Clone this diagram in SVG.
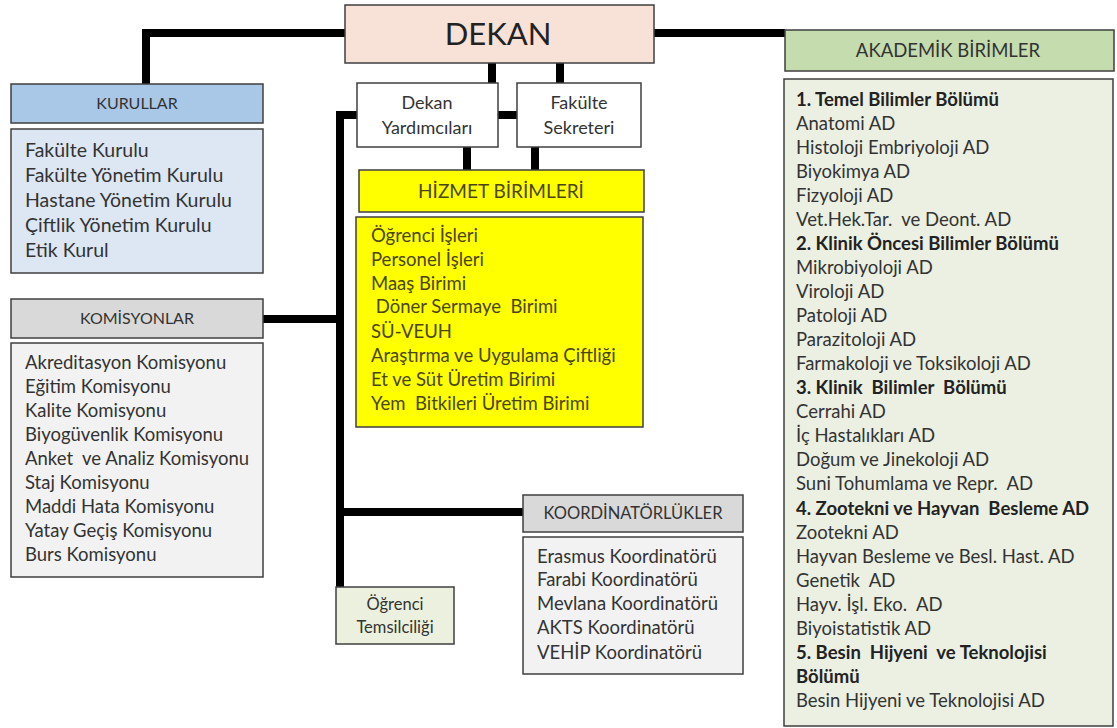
<svg xmlns="http://www.w3.org/2000/svg" width="1117" height="728" viewBox="0 0 1117 728">
<style>
.box{stroke:#3f3f3f;stroke-width:1.5}
.t{font-family:Lato,"Liberation Sans",sans-serif;fill:#333333;font-size:18.5px;white-space:pre}
.k{font-family:Lato,"Liberation Sans",sans-serif;fill:#333333;font-size:19.5px}
.h{font-family:Lato,"Liberation Sans",sans-serif;fill:#333333;font-size:16px;text-anchor:middle}
.b{font-weight:bold;fill:#222222}
.y{fill:#4a4515}
.c{fill:none;stroke:#000;stroke-width:8;stroke-linejoin:miter;stroke-linecap:butt}
</style>
<rect width="1117" height="728" fill="#ffffff"/>
<g id="connectors">
<path class="c" d="M345 33 H146 V84"/>
<path class="c" d="M654 33 H785"/>
<path class="c" d="M492 63 V83"/>
<path class="c" d="M560 63 V83"/>
<path class="c" d="M498 115 H517"/>
<path class="c" d="M467 147 V170"/>
<path class="c" d="M535 147 V170"/>
<path class="c" d="M357 115 H340 V587"/>
<path class="c" d="M263 319 H340"/>
<path class="c" d="M340 512 H523"/>
</g>
<g id="dekan">
<rect class="box" x="345" y="5" width="309" height="58" fill="#f8e1d7"/>
<text x="498" y="45" font-family="Lato,'Liberation Sans',sans-serif" font-size="31" fill="#222" text-anchor="middle">DEKAN</text>
</g>
<g id="dekan-yardimcilari">
<rect class="box" x="357" y="83" width="141" height="64" fill="#ffffff"/>
<text class="h" x="427" y="109" style="font-size:18px">Dekan</text>
<text class="h" x="427" y="134" style="font-size:18px">Yardımcıları</text>
</g>
<g id="fakulte-sekreteri">
<rect class="box" x="517" y="83" width="124" height="64" fill="#ffffff"/>
<text class="h" x="579" y="109" style="font-size:18px">Fakülte</text>
<text class="h" x="579" y="134" style="font-size:18px">Sekreteri</text>
</g>
<g id="kurullar">
<rect class="box" x="11" y="84" width="252" height="39" fill="#a9c7e7"/>
<text class="h" x="137" y="109">KURULLAR</text>
<rect class="box" x="11" y="129" width="252" height="144" fill="#dde7f3"/>
<text class="k" x="25" y="157">Fakülte Kurulu</text>
<text class="k" x="25" y="182">Fakülte Yönetim Kurulu</text>
<text class="k" x="25" y="207">Hastane Yönetim Kurulu</text>
<text class="k" x="25" y="232">Çiftlik Yönetim Kurulu</text>
<text class="k" x="25" y="257">Etik Kurul</text>
</g>
<g id="komisyonlar">
<rect class="box" x="11" y="299" width="252" height="39" fill="#d9d9d9"/>
<text class="h" x="137" y="324">KOMİSYONLAR</text>
<rect class="box" x="11" y="343" width="252" height="234" fill="#f2f2f2"/>
<text class="t" x="25" y="369">Akreditasyon Komisyonu</text>
<text class="t" x="25" y="393">Eğitim Komisyonu</text>
<text class="t" x="25" y="417">Kalite Komisyonu</text>
<text class="t" x="25" y="441">Biyogüvenlik Komisyonu</text>
<text class="t" x="25" y="465">Anket  ve Analiz Komisyonu</text>
<text class="t" x="25" y="489">Staj Komisyonu</text>
<text class="t" x="25" y="513">Maddi Hata Komisyonu</text>
<text class="t" x="25" y="537">Yatay Geçiş Komisyonu</text>
<text class="t" x="25" y="561">Burs Komisyonu</text>
</g>
<g id="hizmet-birimleri">
<rect class="box" x="359" y="170" width="285" height="42" fill="#ffff00"/>
<text class="h y" x="501" y="198" style="font-size:19px">HİZMET BİRİMLERİ</text>
<rect class="box" x="356" y="217" width="287" height="210" fill="#ffff00"/>
<text class="t y" x="371" y="242">Öğrenci İşleri</text>
<text class="t y" x="371" y="266">Personel İşleri</text>
<text class="t y" x="371" y="290">Maaş Birimi</text>
<text class="t y" x="371" y="313"> Döner Sermaye  Birimi</text>
<text class="t y" x="371" y="338">SÜ-VEUH</text>
<text class="t y" x="371" y="362">Araştırma ve Uygulama Çiftliği</text>
<text class="t y" x="371" y="386">Et ve Süt Üretim Birimi</text>
<text class="t y" x="371" y="410">Yem  Bitkileri Üretim Birimi</text>
</g>
<g id="koordinatorlukler">
<rect class="box" x="523" y="495" width="220" height="37" fill="#d9d9d9"/>
<text class="h" x="633" y="519" style="font-size:16.5px">KOORDİNATÖRLÜKLER</text>
<rect class="box" x="523" y="537" width="220" height="137" fill="#f2f2f2"/>
<text class="t" x="537" y="563">Erasmus Koordinatörü</text>
<text class="t" x="537" y="586">Farabi Koordinatörü</text>
<text class="t" x="537" y="610">Mevlana Koordinatörü</text>
<text class="t" x="537" y="634">AKTS Koordinatörü</text>
<text class="t" x="537" y="659">VEHİP Koordinatörü</text>
</g>
<g id="ogrenci-temsilciligi">
<rect class="box" x="336" y="587" width="118" height="57" fill="#ebf1de"/>
<text class="h" x="395" y="610" style="font-size:16.5px">Öğrenci</text>
<text class="h" x="395" y="633" style="font-size:16.5px">Temsilciliği</text>
</g>
<g id="akademik-birimler">
<rect class="box" x="785" y="30" width="329" height="41" fill="#c4dcae"/>
<text class="h" x="948" y="57" style="font-size:18.5px">AKADEMİK BİRİMLER</text>
<rect class="box" x="784" y="79" width="329" height="647" fill="#ebf0e3"/>
<text class="t b" x="796" y="106">1. Temel Bilimler Bölümü</text>
<text class="t" x="796" y="130">Anatomi AD</text>
<text class="t" x="796" y="154">Histoloji Embriyoloji AD</text>
<text class="t" x="796" y="178">Biyokimya AD</text>
<text class="t" x="796" y="202">Fizyoloji AD</text>
<text class="t" x="796" y="226">Vet.Hek.Tar.  ve Deont. AD</text>
<text class="t b" x="796" y="250">2. Klinik Öncesi Bilimler Bölümü</text>
<text class="t" x="796" y="274">Mikrobiyoloji AD</text>
<text class="t" x="796" y="298">Viroloji AD</text>
<text class="t" x="796" y="322">Patoloji AD</text>
<text class="t" x="796" y="346">Parazitoloji AD</text>
<text class="t" x="796" y="370">Farmakoloji ve Toksikoloji AD</text>
<text class="t b" x="796" y="394">3. Klinik  Bilimler  Bölümü</text>
<text class="t" x="796" y="418">Cerrahi AD</text>
<text class="t" x="796" y="442">İç Hastalıkları AD</text>
<text class="t" x="796" y="466">Doğum ve Jinekoloji AD</text>
<text class="t" x="796" y="490">Suni Tohumlama ve Repr.  AD</text>
<text class="t b" x="796" y="515">4. Zootekni ve Hayvan  Besleme AD</text>
<text class="t" x="796" y="539">Zootekni AD</text>
<text class="t" x="796" y="563">Hayvan Besleme ve Besl. Hast. AD</text>
<text class="t" x="796" y="587">Genetik  AD</text>
<text class="t" x="796" y="611">Hayv. İşl. Eko.  AD</text>
<text class="t" x="796" y="635">Biyoistatistik AD</text>
<text class="t b" x="796" y="659">5. Besin  Hijyeni  ve Teknolojisi</text>
<text class="t b" x="796" y="683">Bölümü</text>
<text class="t" x="796" y="707">Besin Hijyeni ve Teknolojisi AD</text>
</g>
</svg>
